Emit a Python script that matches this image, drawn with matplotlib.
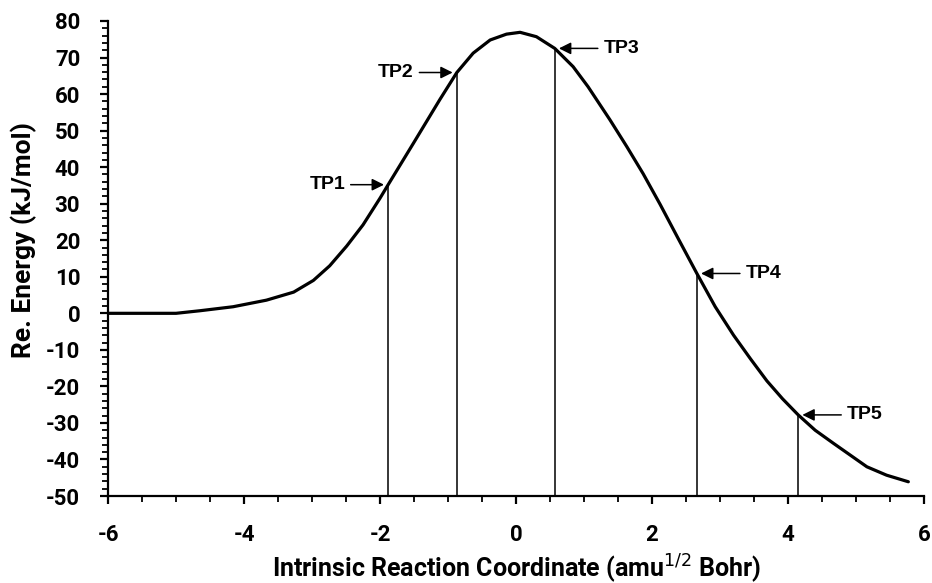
import matplotlib
matplotlib.use("Agg")
import matplotlib.pyplot as plt
from matplotlib.ticker import MultipleLocator

plt.rcParams["axes.unicode_minus"] = False

# IRC energy profile
irc = [-6.0, -5.5, -5.0, -4.65, -4.16, -3.67, -3.27, -2.98, -2.74, -2.49,
       -2.25, -2.0, -1.88, -1.51, -1.12, -0.87, -0.63, -0.38, -0.14, 0.06,
       0.30, 0.57, 0.84, 1.06, 1.38, 1.63, 1.87, 2.12, 2.39, 2.66,
       2.93, 3.2, 3.45, 3.69, 3.92, 4.15, 4.4, 4.67, 4.9, 5.16,
       5.45, 5.77]
energy = [0.0, 0.0, 0.0, 0.7, 1.8, 3.6, 5.8, 9.0, 13.0, 18.4,
          24.2, 31.5, 35.2, 46.5, 58.5, 65.9, 71.2, 74.8, 76.4, 76.9,
          75.7, 72.5, 67.5, 62.0, 53.0, 45.6, 38.2, 29.8, 20.3, 10.9,
          1.8, -6.0, -12.5, -18.5, -23.4, -27.8, -32.0, -35.6, -38.6, -42.0,
          -44.3, -46.1]

tp_names = ["TP1", "TP2", "TP3", "TP4", "TP5"]
tp_x = [-1.88, -0.87, 0.57, 2.66, 4.15]
tp_y = [35.2, 65.9, 72.5, 10.9, -27.8]
tp_side = ["left", "left", "right", "right", "right"]

label_font = "Roboto"
tp_font = "Liberation Sans"

f = plt.figure(figsize=(9.32, 5.83), dpi=100)
ax = f.add_axes([0.1159, 0.1492, 0.8755, 0.8148])

ax.plot(irc, energy, color="black", lw=2.3, solid_capstyle="round",
        solid_joinstyle="round")
ax.vlines(tp_x, -50, tp_y, color="black", lw=1.1)

for name, x, y, side in zip(tp_names, tp_x, tp_y, tp_side):
    dx = -31 if side == "left" else 35
    ax.annotate(name, xy=(x, y), xytext=(dx, 0), textcoords="offset points",
                ha="right" if side == "left" else "left", va="center",
                fontsize=14, fontweight="bold", family=tp_font,
                arrowprops=dict(arrowstyle="-|>", color="black", lw=1.1,
                                mutation_scale=18, shrinkA=2, shrinkB=3))

ax.set_xlim(-6, 6)
ax.set_ylim(-50, 80)
ax.xaxis.set_major_locator(MultipleLocator(2))
ax.xaxis.set_minor_locator(MultipleLocator(0.5))
ax.yaxis.set_major_locator(MultipleLocator(10))
ax.yaxis.set_minor_locator(MultipleLocator(2))

for s in ["top", "right"]:
    ax.spines[s].set_visible(False)
for s in ["left", "bottom"]:
    ax.spines[s].set_linewidth(1.6)

ax.tick_params(which="major", direction="out", length=6, width=1.6)
ax.tick_params(which="minor", direction="out", length=4.5, width=1.3)
ax.tick_params(axis="x", which="major", pad=14)
ax.tick_params(axis="y", which="major", pad=14)

for lab in ax.get_xticklabels() + ax.get_yticklabels():
    lab.set_family(label_font)
    lab.set_fontweight("bold")
    lab.set_fontsize(16)

ax.set_xlabel("Intrinsic Reaction Coordinate (amu$^{1/2}$ Bohr)",
              family=label_font, fontweight="bold", fontsize=18)
ax.xaxis.set_label_coords(0.5, -0.118)
ax.set_ylabel("Re. Energy (kJ/mol)", family=label_font, fontweight="bold",
              fontsize=19)
ax.yaxis.set_label_coords(-0.087, 0.54)

f.savefig("out.png", dpi=100)
plt.close(f)
